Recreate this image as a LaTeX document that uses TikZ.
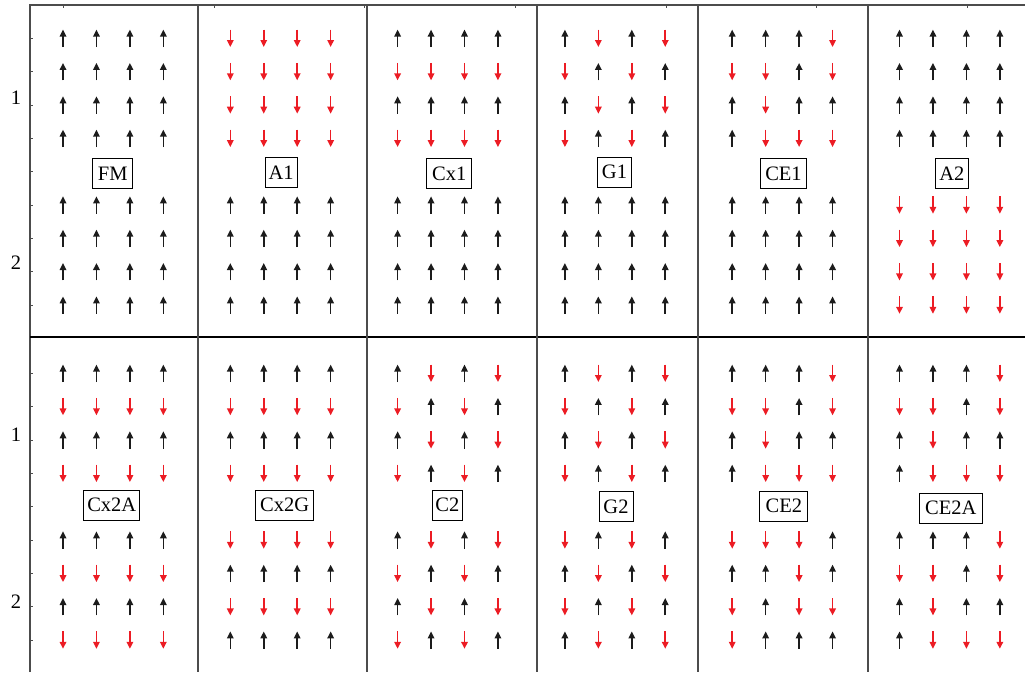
\documentclass[tikz,border=0pt]{standalone}
\usepackage{fontspec}
\setmainfont{Liberation Serif}
\usetikzlibrary{arrows.meta}

\definecolor{spinred}{RGB}{236,28,36}
\definecolor{spinblack}{RGB}{28,28,28}

% one panel of 8 rows x 4 spins, 1 = up, -1 = down
\newcommand{\spinpanel}[3]{%
  \foreach \r [count=\i from 0] in {#3} {
    \foreach \s [count=\j from 0] in \r {
      \pgfmathsetmacro{\px}{#1+33.45*\j}
      \pgfmathsetmacro{\py}{#2+33.35*(\i+(\i>3))}
      \ifnum\s>0
        \draw[spinup] (\px,\py+8.7) -- (\px,\py-8.7);
      \else
        \draw[spindown] (\px,\py-8.7) -- (\px,\py+8.7);
      \fi
    }
  }}

\begin{document}
\begin{tikzpicture}[
    x=1pt, y=-1pt,
    every node/.style={font=\fontsize{20.5}{24}\selectfont},
    spinup/.style={-{Triangle[length=7pt,width=6.5pt]}, line width=1.6pt, color=spinblack},
    spindown/.style={-{Triangle[length=7pt,width=6.5pt]}, line width=1.6pt, color=spinred},
    frameline/.style={line width=1.4pt, color=black!70},
    tick/.style={line width=1pt, color=black!70},
    labelbox/.style={rectangle, draw, fill=white, line width=0.9pt, inner sep=0pt, minimum height=30pt, minimum width=#1}
]

\useasboundingbox (0,0) rectangle (1025,672);

% Frame
\draw[frameline] (30,672) -- (30,5) -- (1025,5);
\draw[line width=1.6pt] (30,337) -- (1025,337);
\draw[frameline] (198,5) -- (198,672);
\draw[frameline] (367,5) -- (367,672);
\draw[frameline] (537,5) -- (537,672);
\draw[frameline] (698,5) -- (698,672);
\draw[frameline] (868,5) -- (868,672);

% Ticks
\foreach \t in {0,...,8} {
  \draw[tick] (30,38.3+33.35*\t) -- ++(3,0);
  \draw[tick] (30,373.3+33.35*\t) -- ++(3,0);
}
\foreach \t in {0,...,6}
  \draw[tick] (63.3+150.7*\t,5) -- ++(0,3);

% Layer labels
\node (l1top) at (16,98) {1};
\node (l2top) at (16,263) {2};
\node (l1bot) at (16,435) {1};
\node (l2bot) at (16,602) {2};

% Top row
\spinpanel{63}{38.3}{{1,1,1,1},{1,1,1,1},{1,1,1,1},{1,1,1,1},{1,1,1,1},{1,1,1,1},{1,1,1,1},{1,1,1,1}}
\spinpanel{230.3}{38.3}{{-1,-1,-1,-1},{-1,-1,-1,-1},{-1,-1,-1,-1},{-1,-1,-1,-1},{1,1,1,1},{1,1,1,1},{1,1,1,1},{1,1,1,1}}
\spinpanel{397.6}{38.3}{{1,1,1,1},{-1,-1,-1,-1},{1,1,1,1},{-1,-1,-1,-1},{1,1,1,1},{1,1,1,1},{1,1,1,1},{1,1,1,1}}
\spinpanel{564.9}{38.3}{{1,-1,1,-1},{-1,1,-1,1},{1,-1,1,-1},{-1,1,-1,1},{1,1,1,1},{1,1,1,1},{1,1,1,1},{1,1,1,1}}
\spinpanel{732.2}{38.3}{{1,1,1,-1},{-1,-1,1,-1},{1,-1,1,1},{1,-1,-1,-1},{1,1,1,1},{1,1,1,1},{1,1,1,1},{1,1,1,1}}
\spinpanel{899.5}{38.3}{{1,1,1,1},{1,1,1,1},{1,1,1,1},{1,1,1,1},{-1,-1,-1,-1},{-1,-1,-1,-1},{-1,-1,-1,-1},{-1,-1,-1,-1}}

% Bottom row
\spinpanel{63}{373.3}{{1,1,1,1},{-1,-1,-1,-1},{1,1,1,1},{-1,-1,-1,-1},{1,1,1,1},{-1,-1,-1,-1},{1,1,1,1},{-1,-1,-1,-1}}
\spinpanel{230.3}{373.3}{{1,1,1,1},{-1,-1,-1,-1},{1,1,1,1},{-1,-1,-1,-1},{-1,-1,-1,-1},{1,1,1,1},{-1,-1,-1,-1},{1,1,1,1}}
\spinpanel{397.6}{373.3}{{1,-1,1,-1},{-1,1,-1,1},{1,-1,1,-1},{-1,1,-1,1},{1,-1,1,-1},{-1,1,-1,1},{1,-1,1,-1},{-1,1,-1,1}}
\spinpanel{564.9}{373.3}{{1,-1,1,-1},{-1,1,-1,1},{1,-1,1,-1},{-1,1,-1,1},{-1,1,-1,1},{1,-1,1,-1},{-1,1,-1,1},{1,-1,1,-1}}
\spinpanel{732.2}{373.3}{{1,1,1,-1},{-1,-1,1,-1},{1,-1,1,1},{1,-1,-1,-1},{-1,-1,-1,1},{1,1,-1,1},{-1,1,-1,-1},{-1,1,1,1}}
\spinpanel{899.5}{373.3}{{1,1,1,-1},{-1,-1,1,-1},{1,-1,1,1},{1,-1,-1,-1},{1,1,1,-1},{-1,-1,1,-1},{1,-1,1,1},{1,-1,-1,-1}}

% Phase labels
\node[labelbox=40pt] (fm) at (112.7,173.5) {FM};
\node[labelbox=32pt] (aone) at (281.2,172.3) {A1};
\node[labelbox=45pt] (cxone) at (449.3,173.7) {Cx1};
\node[labelbox=34pt] (gone) at (614.5,172.3) {G1};
\node[labelbox=46pt] (ceone) at (783.5,173.7) {CE1};
\node[labelbox=33pt] (atwo) at (951.8,173.8) {A2};
\node[labelbox=56pt] (cxtwoa) at (111.8,505) {Cx2A};
\node[labelbox=58pt] (cxtwog) at (284.7,505.3) {Cx2G};
\node[labelbox=30pt] (ctwo) at (447.3,505.3) {C2};
\node[labelbox=34pt] (gtwo) at (616,506.5) {G2};
\node[labelbox=48pt] (cetwo) at (783.8,506.3) {CE2};
\node[labelbox=63pt] (cetwoa) at (950.7,508.2) {CE2A};

\end{tikzpicture}
\end{document}
